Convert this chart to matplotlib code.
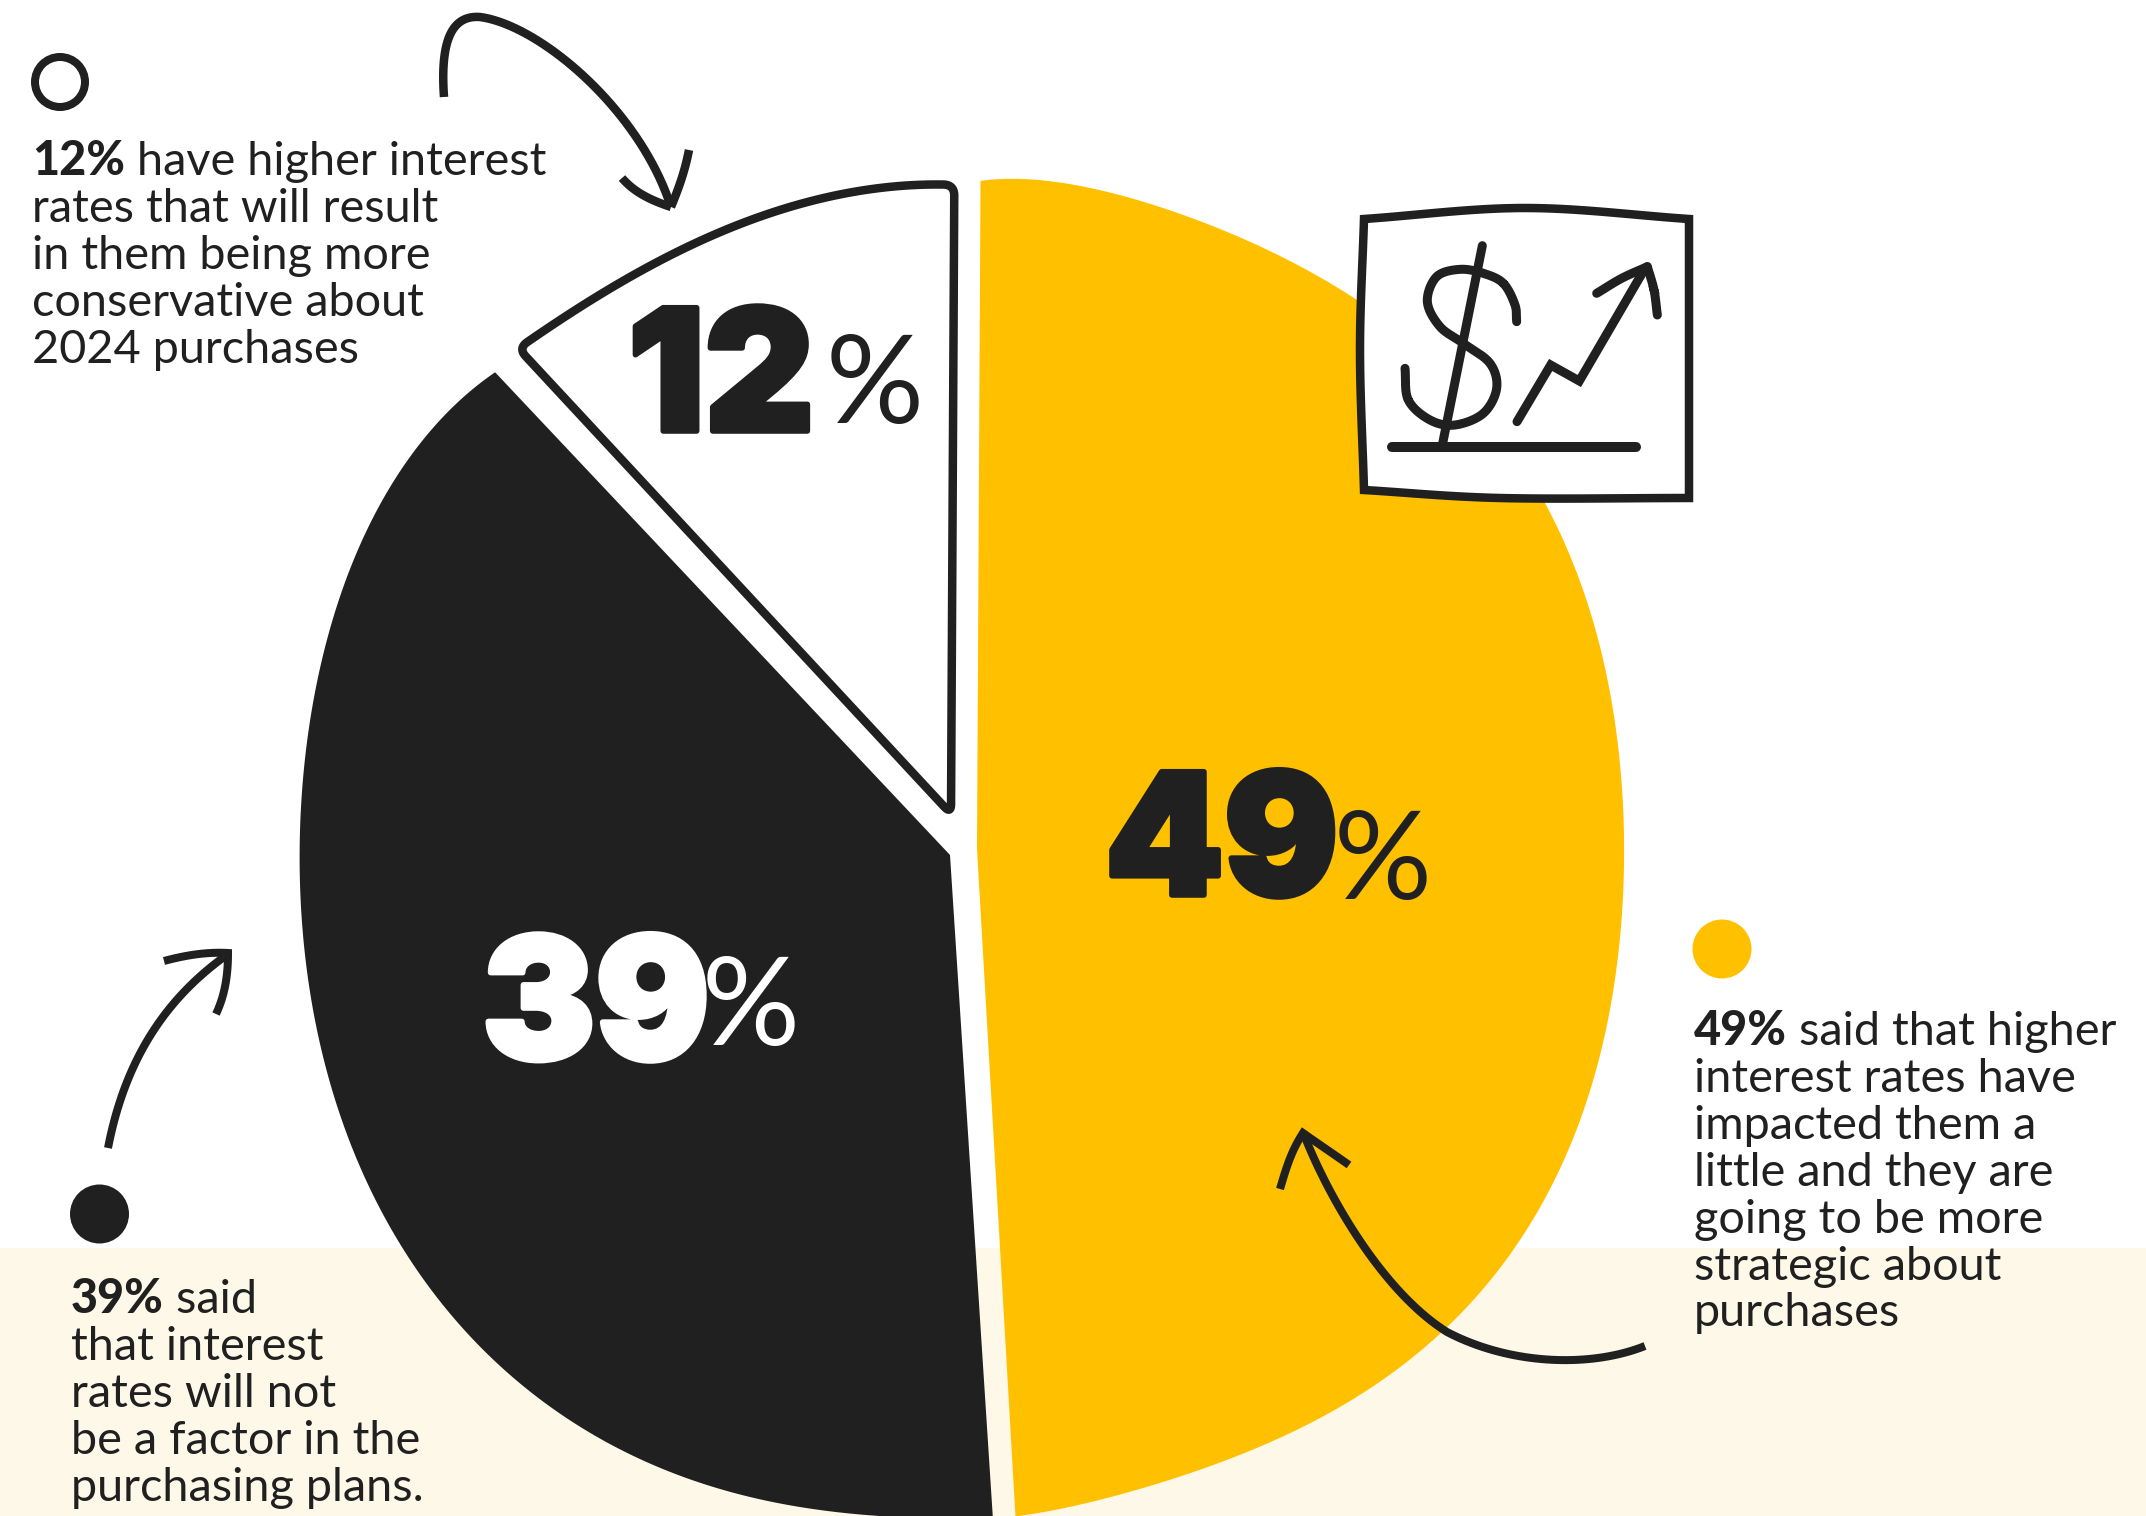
import numpy as np
import matplotlib
matplotlib.use("Agg")
import matplotlib.pyplot as plt
from matplotlib.patches import Polygon, Circle, Rectangle
import matplotlib.patheffects as pe

plt.rcParams["font.family"] = ["Lato", "DejaVu Sans"]

INK = "#202020"
GOLD = "#FFC000"
CREAM = "#FEF8E8"

# survey shares, clockwise from the top of the pie
categories = ["strategic", "not a factor", "conservative"]
shares = [49, 39, 12]

callout_bold = ["49%", "39%", "12%"]
callout_first = [" said that higher", " said", " have higher interest"]
callout_rest = [
    ["interest rates have", "impacted them a", "little and they are",
     "going to be more", "strategic about", "purchases"],
    ["that interest", "rates will not", "be a factor in the", "purchasing plans."],
    ["rates that will result", "in them being more", "conservative about", "2024 purchases"],
]

W, H = 2146, 1516
fig = plt.figure(figsize=(W / 100, H / 100), dpi=100)
ax = fig.add_axes([0, 0, 1, 1])
ax.set_xlim(0, W)
ax.set_ylim(H, 0)
ax.axis("off")
px = 0.72  # stroke widths below are in pixels


def curve(pts, n=30):
    # Catmull-Rom through the given points
    p = np.asarray(pts, float)
    p = np.r_[[2 * p[0] - p[1]], p, [2 * p[-1] - p[-2]]]
    out = []
    for i in range(1, len(p) - 2):
        t = np.linspace(0, 1, n)[:, None]
        out.append(0.5 * (2 * p[i] + (p[i + 1] - p[i - 1]) * t
                          + (2 * p[i - 1] - 5 * p[i] + 4 * p[i + 1] - p[i + 2]) * t ** 2
                          + (3 * p[i] - p[i - 1] - 3 * p[i + 1] + p[i + 2]) * t ** 3))
    return np.vstack(out)


def bezier(*segments, n=40):
    t = np.linspace(0, 1, n)[:, None]
    out = []
    for a, b, c, d in segments:
        a, b, c, d = map(np.asarray, (a, b, c, d))
        out.append((1 - t) ** 3 * a + 3 * (1 - t) ** 2 * t * b + 3 * (1 - t) * t ** 2 * c + t ** 3 * d)
    return np.vstack(out)


def wedge_outline(apex, a0, a1, profile, deg=5):
    # outer edge: low-order fit of radius against angle, so the rim stays smooth
    prof = np.asarray(profile, float)
    mid = prof[:, 0].mean()
    span = np.ptp(prof[:, 0])
    coef = np.polyfit((prof[:, 0] - mid) / span, prof[:, 1], deg)
    a = np.linspace(a0, a1, 300)
    r = np.polyval(coef, (a - mid) / span)
    t = np.radians(a)
    xs = apex[0] + r * np.sin(t)
    ys = apex[1] - r * np.cos(t)
    return np.r_[[apex], np.c_[xs, ys]]


def round_corners(pts, window=11, step=2.0):
    closed = np.r_[pts, pts[:1]]
    seg = np.hypot(*np.diff(closed, axis=0).T)
    s = np.r_[0, np.cumsum(seg)]
    u = np.arange(0, s[-1], step)
    x = np.interp(u, s, closed[:, 0])
    y = np.interp(u, s, closed[:, 1])
    ker = np.ones(window) / window
    x = np.convolve(np.r_[x[-window:], x, x[:window]], ker, mode="same")[window:-window]
    y = np.convolve(np.r_[y[-window:], y, y[:window]], ker, mode="same")[window:-window]
    return np.c_[x, y]


def stroke(c, lw=8, cap="butt", join="miter", z=6):
    c = np.asarray(c, float)
    ax.plot(c[:, 0], c[:, 1], color=INK, lw=lw * px, solid_capstyle=cap,
            solid_joinstyle=join, zorder=z)


# background band along the bottom
ax.add_patch(Rectangle((0, 1248), W, H - 1248, color=CREAM, lw=0, zorder=0))

# pie: each slice spans its share of 360 degrees, with slightly uneven outer edges
bounds = 0.3 + np.r_[0, np.cumsum(shares)] * 3.6

gold = wedge_outline((977, 849), bounds[0], bounds[1],
                     [(0, 668), (12, 668), (24, 668), (36, 668), (48, 667), (59, 665), (75, 655), (90, 647),
                      (109, 654), (126, 671), (136, 672), (152, 660), (165, 661), (172, 665), (178, 669)], deg=8)
ax.add_patch(Polygon(gold, closed=True, fc=GOLD, ec="none", zorder=2))

dark = wedge_outline((950, 855), bounds[1] - 0.4, bounds[2] - 0.4,
                     [(176, 666), (188, 666), (210, 680), (234, 674), (262, 652), (274, 653),
                      (287, 655), (298, 666), (307, 673), (318, 660)], deg=5)
ax.add_patch(Polygon(dark, closed=True, fc=INK, ec="none", zorder=2))

pale = wedge_outline((951, 814), bounds[2], bounds[3],
                     [(317, 636), (325, 627), (336, 626), (349, 629), (361, 629)], deg=3)
ax.add_patch(Polygon(round_corners(pale), closed=True, fc="white", ec=INK, lw=8.5 * px,
                     joinstyle="round", zorder=3))

# big numerals inside the slices
big_num = dict(family=["Inter", "Lato"], fontsize=122, fontweight="black", va="baseline", ha="left", zorder=5)
big_pct = dict(fontsize=88, fontweight="normal", va="center", ha="center", zorder=5)
for label, x, y, xp, yp, col in [
    ("12", 628, 431, 875, 388, INK),
    ("49", 1105, 895, 1383, 864, INK),
    ("39", 482, 1059, 751, 1010, "white"),
]:
    ax.text(x, y, label, color=col,
            path_effects=[pe.withStroke(linewidth=4, foreground=col)], **big_num)
    ax.text(xp, yp, "%", color=col, **big_pct)

# callouts
body = dict(fontsize=33.7, color=INK, va="baseline", ha="left", zorder=7)
pitch = 46.9
fig.canvas.draw()
renderer = fig.canvas.get_renderer()
for i, (x, y) in enumerate([(1694, 1045), (71, 1313), (32, 175)]):
    head = ax.text(x, y, callout_bold[i], fontweight="black", **body)
    ext = head.get_window_extent(renderer)
    ax.text(ext.x1, y, callout_first[i], **body)
    for j, line in enumerate(callout_rest[i]):
        ax.text(x, y + (j + 1) * pitch, line, **body)

# legend dots
ax.add_patch(Circle((60, 82), 25, fc="white", ec=INK, lw=8 * px, zorder=5))
ax.add_patch(Circle((1722, 949), 29.5, fc=GOLD, ec="none", zorder=5))
ax.add_patch(Circle((99.5, 1214), 29.5, fc=INK, ec="none", zorder=5))

# hand-drawn arrows
stroke(bezier([(444, 97), (440, 40), (452, 15), (480, 17)],
              [(480, 17), (540, 25), (640, 110), (671, 207)]), lw=8.5)
stroke(bezier([(622, 178), (634, 192), (650, 200), (671, 207)]), lw=8.5)
stroke(bezier([(671, 207), (680, 185), (685, 170), (689, 150)]), lw=8.5)

stroke(bezier([(108, 1148), (125, 1060), (165, 1000), (224, 957)]), lw=8)
stroke(bezier([(164, 961), (190, 954), (210, 952), (228, 953)],
              [(228, 953), (228, 975), (225, 995), (216, 1014)]), lw=8)

stroke(bezier([(1645, 1346), (1590, 1368), (1510, 1365), (1447, 1332)],
              [(1447, 1332), (1380, 1290), (1325, 1190), (1303, 1132)]), lw=8)
stroke(bezier([(1280, 1189), (1287, 1165), (1292, 1150), (1303, 1133)],
              [(1303, 1133), (1320, 1145), (1335, 1155), (1349, 1165)]), lw=8)

# rising-price icon
box = np.r_[curve([(1364, 219), (1525, 208), (1689, 219)]),
            [(1689, 498)],
            curve([(1689, 498), (1500, 498), (1364, 490)]),
            curve([(1364, 490), (1360, 350), (1364, 219)])]
ax.add_patch(Polygon(box, closed=True, fc="white", ec=INK, lw=8.5 * px, joinstyle="miter", zorder=6))


def icon(x, y):
    return (1300 + x / 3, 180 + y / 3)


s_curve = [(650, 425), (645, 375), (610, 310), (550, 280), (480, 268), (410, 290), (382, 365), (420, 440),
           (490, 490), (570, 550), (590, 625), (550, 700), (465, 735), (390, 720), (325, 660), (315, 565)]
stroke(curve([icon(*p) for p in s_curve]), lw=9, cap="round", join="round", z=7)
stroke([icon(547, 197), icon(428, 790)], lw=9, cap="round", z=7)
stroke([icon(275, 800), icon(1007, 800)], lw=10, cap="round", z=7)
stroke([icon(651, 725), icon(752, 555), icon(838, 603), icon(1035, 265)], lw=9, cap="round", z=7)
stroke(curve([icon(890, 340), icon(965, 295), icon(1042, 260)]), lw=9, cap="round", z=7)
stroke(curve([icon(1042, 260), icon(1062, 330), icon(1072, 405)]), lw=9, cap="round", z=7)

fig.savefig("out.png", dpi=100, facecolor="white")
